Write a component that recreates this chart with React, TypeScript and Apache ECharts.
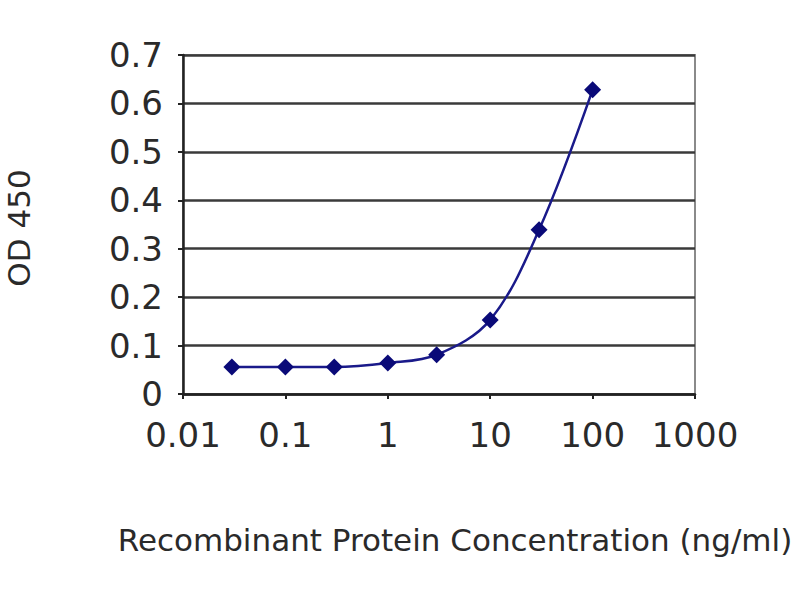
import React, { useEffect, useRef } from "react";
import * as echarts from "echarts";

const concentrations = [0.03, 0.1, 0.3, 1, 3, 10, 30, 100];
const odValues = [0.056, 0.056, 0.056, 0.064, 0.081, 0.153, 0.339, 0.628];
const xTitle = "Recombinant Protein Concentration (ng/ml)";
const yTitle = "OD 450";

export default function App() {
  const ref = useRef<HTMLDivElement>(null);
  useEffect(() => {
    if (!ref.current) return;
    const chart = echarts.init(ref.current, undefined, { renderer: "svg" });
    const font = "DejaVu Sans";
    chart.setOption({
      animation: false,
      backgroundColor: "#ffffff",
      grid: {
        left: 183,
        top: 55,
        width: 512,
        height: 339,
        show: true,
        borderColor: "#8a8a8a",
        borderWidth: 2,
        backgroundColor: "transparent",
      },
      xAxis: {
        type: "log",
        logBase: 10,
        min: 0.01,
        max: 1000,
        axisLine: { show: true, onZero: false, lineStyle: { color: "#222", width: 2.5 } },
        axisTick: { show: true, inside: false, length: 5, lineStyle: { color: "#222", width: 2 } },
        minorTick: { show: false },
        splitLine: { show: false },
        axisLabel: {
          show: true,
          margin: 24,
          fontFamily: font,
          fontSize: 34,
          color: "#2a2a2a",
          showMinLabel: true,
          showMaxLabel: true,
          formatter: (v: number) => String(v),
        },
      },
      yAxis: {
        type: "value",
        min: 0,
        max: 0.7,
        interval: 0.1,
        axisLine: { show: true, lineStyle: { color: "#222", width: 2.5 } },
        axisTick: { show: true, inside: false, length: 5, lineStyle: { color: "#222", width: 2 } },
        splitLine: { show: true, lineStyle: { color: "#3a3a3a", width: 2.5 } },
        axisLabel: {
          margin: 20,
          fontFamily: font,
          fontSize: 34,
          color: "#2a2a2a",
          formatter: (v: number) => (Math.round(v * 10) / 10).toString(),
        },
      },
      graphic: [
        {
          type: "text",
          x: 455,
          y: 540,
          style: {
            text: xTitle,
            font: `31px "${font}"`,
            fill: "#2a2a2a",
            align: "center",
            verticalAlign: "middle",
          },
        },
        {
          type: "text",
          x: 19,
          y: 228,
          rotation: Math.PI / 2,
          style: {
            text: yTitle,
            font: `31px "${font}"`,
            fill: "#2a2a2a",
            align: "center",
            verticalAlign: "middle",
          },
        },
      ],
      series: [
        {
          type: "line",
          data: concentrations.map((c, i) => [c, odValues[i]]),
          smooth: 0.35,
          symbol: "diamond",
          symbolSize: 17,
          itemStyle: { color: "#0a0a78" },
          lineStyle: { color: "#1a1a8a", width: 2.5 },
        },
      ],
    });
    return () => chart.dispose();
  }, []);
  return (
    <div
      ref={ref}
      style={{ position: "fixed", left: 0, top: 0, width: 800, height: 600 }}
    />
  );
}
